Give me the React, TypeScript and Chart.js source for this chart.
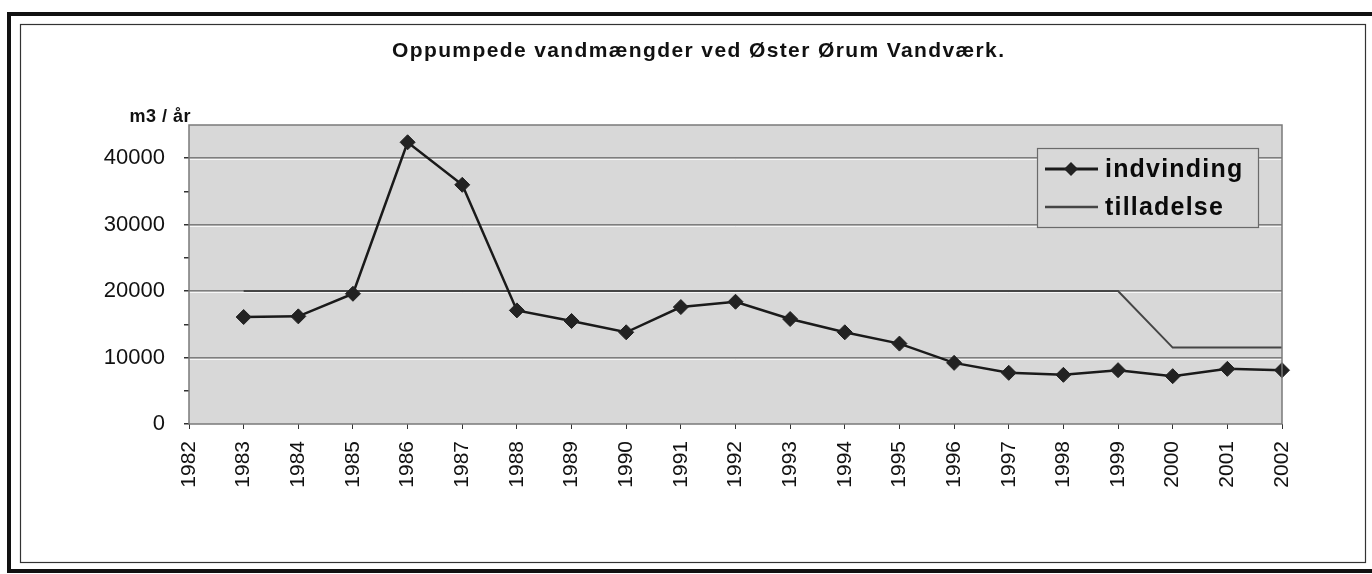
import React, { useEffect, useRef } from 'react';
import { Chart, registerables } from 'chart.js';

Chart.register(...registerables);

const years = ['1982', '1983', '1984', '1985', '1986', '1987', '1988', '1989', '1990', '1991', '1992', '1993', '1994', '1995', '1996', '1997', '1998', '1999', '2000', '2001', '2002'];
const indvinding = [null, 16100, 16200, 19600, 42400, 36000, 17100, 15500, 13800, 17600, 18400, 15800, 13800, 12100, 9200, 7700, 7400, 8100, 7200, 8300, 8100];
const tilladelse = [null, 20000, 20000, 20000, 20000, 20000, 20000, 20000, 20000, 20000, 20000, 20000, 20000, 20000, 20000, 20000, 20000, 20000, 11500, 11500, 11500];
const yMajorTicks = [0, 10000, 20000, 30000, 40000];
const yMinorTicks = [5000, 15000, 25000, 35000];
const titleText = 'Oppumpede vandmængder ved Øster Ørum Vandværk.';
const yUnitText = 'm3 / år';

const FONT = '"Liberation Sans", Arial, sans-serif';
const PLOT_BG = '#d8d8d8';

const decorPlugin = {
  id: 'decor',
  beforeDraw(chart: any) {
    const { ctx, chartArea: a } = chart;
    ctx.save();
    ctx.fillStyle = '#ffffff';
    ctx.fillRect(0, 0, chart.width, chart.height);
    ctx.fillStyle = PLOT_BG;
    ctx.fillRect(a.left, a.top, a.right - a.left, a.bottom - a.top);
    ctx.restore();
  },
  beforeDatasetsDraw(chart: any) {
    const { ctx, chartArea: a, scales } = chart;
    ctx.save();
    // light highlight under each major gridline (3D look of the original)
    ctx.strokeStyle = 'rgba(255,255,255,0.8)';
    ctx.lineWidth = 1;
    yMajorTicks.forEach((v) => {
      if (v === 0) return;
      const y = Math.round(scales.y.getPixelForValue(v)) + 1.5;
      ctx.beginPath();
      ctx.moveTo(a.left, y);
      ctx.lineTo(a.right, y);
      ctx.stroke();
    });
    ctx.restore();
  },
  afterDatasetsDraw(chart: any) {
    const { ctx, chartArea: a } = chart;
    ctx.save();
    ctx.strokeStyle = '#7a7a7a';
    ctx.lineWidth = 1.5;
    ctx.strokeRect(a.left, a.top, a.right - a.left, a.bottom - a.top);
    ctx.restore();
  },
  afterDraw(chart: any) {
    const { ctx } = chart;
    ctx.save();
    // outer frames
    ctx.strokeStyle = '#111';
    ctx.lineWidth = 4;
    ctx.strokeRect(9, 14, 1380, 557);
    ctx.lineWidth = 1.2;
    ctx.strokeStyle = '#333';
    ctx.strokeRect(20.5, 24.5, 1345, 538);

    // title
    ctx.fillStyle = '#111';
    ctx.font = `bold 21px ${FONT}`;
    ctx.textBaseline = 'alphabetic';
    ctx.textAlign = 'left';
    const targetW = 612;
    const w0 = ctx.measureText(titleText).width;
    const ls = (targetW - w0) / (titleText.length - 1);
    (ctx as any).letterSpacing = `${ls}px`;
    ctx.fillText(titleText, 392, 57);
    (ctx as any).letterSpacing = '0px';

    // y unit label
    ctx.font = `bold 18px ${FONT}`;
    ctx.textAlign = 'right';
    (ctx as any).letterSpacing = '0.5px';
    ctx.fillText(yUnitText, 191, 122);
    (ctx as any).letterSpacing = '0px';

    // legend
    const lx = 1037, ly = 148, lw = 221, lh = 79;
    ctx.fillStyle = PLOT_BG;
    ctx.fillRect(lx, ly, lw, lh);
    ctx.strokeStyle = '#6a6a6a';
    ctx.lineWidth = 1.2;
    ctx.strokeRect(lx + 0.5, ly + 0.5, lw, lh);
    const rows = [169, 207];
    chart.data.datasets.forEach((ds: any, i: number) => {
      const y = rows[i];
      ctx.strokeStyle = ds.borderColor;
      ctx.lineWidth = ds.borderWidth + 0.5;
      ctx.beginPath();
      ctx.moveTo(1045, y);
      ctx.lineTo(1098, y);
      ctx.stroke();
      if (ds.pointRadius > 0) {
        const r = 7;
        ctx.fillStyle = ds.pointBackgroundColor;
        ctx.beginPath();
        ctx.moveTo(1071, y - r);
        ctx.lineTo(1071 + r, y);
        ctx.lineTo(1071, y + r);
        ctx.lineTo(1071 - r, y);
        ctx.closePath();
        ctx.fill();
      }
      ctx.fillStyle = '#0a0a0a';
      ctx.font = `bold 25px ${FONT}`;
      ctx.textAlign = 'left';
      ctx.textBaseline = 'middle';
      (ctx as any).letterSpacing = '1.2px';
      ctx.fillText(ds.label, 1105, y + 1);
      (ctx as any).letterSpacing = '0px';
    });
    ctx.restore();
  },
};

export default function App() {
  const ref = useRef<HTMLCanvasElement | null>(null);
  useEffect(() => {
    if (!ref.current) return;
    const chart = new Chart(ref.current, {
      type: 'line',
      data: {
        labels: years,
        datasets: [
          {
            label: 'indvinding',
            data: indvinding,
            borderColor: '#1a1a1a',
            borderWidth: 2.5,
            pointStyle: 'rectRot',
            pointRadius: 7.5,
            pointBackgroundColor: '#222222',
            pointBorderColor: '#222222',
            pointBorderWidth: 1,
            tension: 0,
            clip: false,
            order: 0,
          } as any,
          {
            label: 'tilladelse',
            data: tilladelse,
            borderColor: '#454545',
            borderWidth: 2,
            pointRadius: 0,
            tension: 0,
            order: 1,
          } as any,
        ],
      },
      options: {
        responsive: false,
        animation: false,
        devicePixelRatio: 1,
        layout: { padding: { left: 20, top: 125, right: 90, bottom: 20 } },
        plugins: {
          legend: { display: false },
          title: { display: false },
          tooltip: { enabled: false },
        },
        scales: {
          x: {
            type: 'category',
            offset: false,
            afterFit(scale: any) {
              scale.height = 130;
            },
            grid: {
              drawOnChartArea: false,
              drawTicks: true,
              tickLength: 5,
              color: '#333',
            },
            border: { display: false },
            ticks: {
              autoSkip: false,
              minRotation: 90,
              maxRotation: 90,
              padding: 12,
              color: '#111',
              font: { family: FONT, size: 21 },
            },
          },
          y: {
            min: 0,
            max: 45000,
            afterFit(scale: any) {
              scale.width = 169;
            },
            afterBuildTicks(scale: any) {
              const all = [...yMajorTicks, ...yMinorTicks].sort((p, q) => p - q);
              scale.ticks = all.map((v) => ({ value: v }));
            },
            grid: {
              color: (c: any) => (c.tick && yMajorTicks.includes(c.tick.value) && c.tick.value !== 0 ? '#7e7e7e' : 'rgba(0,0,0,0)'),
              lineWidth: 1.5,
              tickColor: '#333',
              tickLength: 5,
            },
            border: { display: false },
            ticks: {
              padding: 19,
              color: '#111',
              font: { family: FONT, size: 22 },
              callback: (v: any) => (yMajorTicks.includes(Number(v)) ? String(v) : ''),
            },
          },
        },
      },
      plugins: [decorPlugin],
    });
    return () => chart.destroy();
  }, []);
  return (
    <div style={{ position: 'fixed', left: 0, top: 0, width: 1372, height: 574, background: '#fff' }}>
      <canvas ref={ref} width={1372} height={574} style={{ display: 'block', width: 1372, height: 574 }} />
    </div>
  );
}
